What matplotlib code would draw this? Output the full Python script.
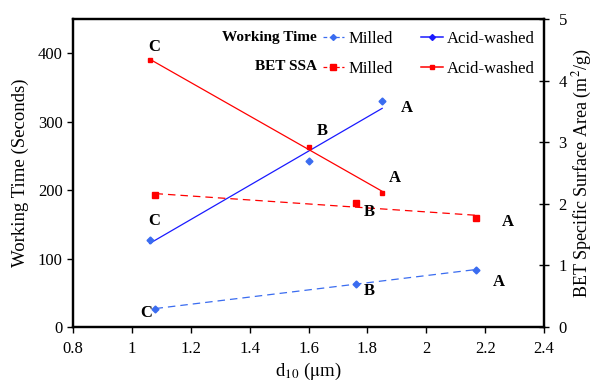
import numpy as np
import matplotlib
matplotlib.use("Agg")
import matplotlib.pyplot as plt
from matplotlib.lines import Line2D

plt.rcParams['font.family'] = ['Liberation Serif', 'DejaVu Serif']
plt.rcParams['mathtext.fontset'] = 'stix'

# Data (d10 in um)
d10_milled = [1.08, 1.76, 2.17]
d10_acid = [1.06, 1.60, 1.85]
wt_milled = [27, 63, 84]
wt_acid = [127, 242, 330]
bet_milled = [2.14, 2.02, 1.77]
bet_acid = [4.34, 2.92, 2.18]
labels = ['C', 'B', 'A']

blue = '#1a1aff'
blue_m = '#3a6cf0'
red = '#ff0000'

fig = plt.figure(figsize=(5.94, 3.83), dpi=100)
ax = fig.add_axes([0.123, 0.146, 0.793, 0.804])
ax2 = ax.twinx()


def trend(x, y):
    k, b = np.polyfit(x, y, 1)
    xs = np.array([min(x), max(x)])
    return xs, k * xs + b


# working time
xs, ys = trend(d10_milled, wt_milled)
ax.plot(xs, ys, '--', color=blue_m, lw=0.9, dashes=(6, 4))
ax.plot(d10_milled, wt_milled, 'D', color=blue_m, ms=3.5, ls='none')
xs, ys = trend(d10_acid, wt_acid)
ax.plot(xs, ys, '-', color=blue, lw=0.9)
ax.plot(d10_acid, wt_acid, 'D', color=blue_m, ms=3.5, ls='none')

# BET SSA
xs, ys = trend(d10_milled, bet_milled)
ax2.plot(xs, ys, '--', color=red, lw=0.9, dashes=(6, 4))
ax2.plot(d10_milled, bet_milled, 's', color=red, ms=4.5, ls='none')
xs, ys = trend(d10_acid, bet_acid)
ax2.plot(xs, ys, '-', color=red, lw=0.9)
ax2.plot(d10_acid, bet_acid, 's', color=red, ms=3.5, ls='none')

# point labels (offsets in points; None = no label)
lab_kw = dict(textcoords='offset points', fontsize=12, fontweight='bold',
              ha='center', va='center')


def label_points(a, x, y, offs):
    for xi, yi, t, off in zip(x, y, labels, offs):
        if off is not None:
            a.annotate(t, (xi, yi), xytext=off, **lab_kw)


label_points(ax, d10_milled, wt_milled, [(-7, -3), (10, -5), (16, -9)])
label_points(ax, d10_acid, wt_acid, [(3, 14), None, (18, -5)])
label_points(ax2, d10_milled, bet_milled, [None, (10, -6.5), (23, -3)])
label_points(ax2, d10_acid, bet_acid, [(3, 9.5), (10, 12), (9, 11)])

ax.set_xlim(0.8, 2.4)
ax.set_ylim(0, 450)
ax2.set_ylim(0, 5)
ax.set_xticks(np.arange(0.8, 2.41, 0.2))
ax.set_xticklabels(['0.8', '1', '1.2', '1.4', '1.6', '1.8', '2', '2.2', '2.4'])
ax.set_yticks([0, 100, 200, 300, 400])
ax2.set_yticks([0, 1, 2, 3, 4, 5])

ax.tick_params(axis='both', direction='out', labelsize=12, length=4, width=1)
ax.tick_params(axis='x', pad=6)
ax2.tick_params(axis='y', direction='inout', labelsize=12, length=7, width=1,
                pad=7)
for a in (ax, ax2):
    for s in a.spines.values():
        s.set_linewidth(1.6)

ax.set_xlabel(r'd$_{10}$ ($\mathrm{\mu}$m)', fontsize=13.5, labelpad=3)
ax.set_ylabel('Working Time (Seconds)', fontsize=13.5, labelpad=6)
ax2.set_ylabel(r'BET Specific Surface Area (m$^2$/g)', fontsize=13,
               labelpad=3)

# legend
handles = [
    Line2D([], [], color=blue_m, ls='--', lw=0.9, marker='D', ms=3,
           dashes=(3, 2)),
    Line2D([], [], color=red, ls='--', lw=0.9, marker='s', ms=4,
           dashes=(3, 2)),
    Line2D([], [], color=blue, ls='-', lw=1.1, marker='D', ms=3),
    Line2D([], [], color=red, ls='-', lw=1.1, marker='s', ms=3.5),
]
fig.legend(handles, ['Milled', 'Milled', 'Acid-washed', 'Acid-washed'],
           ncol=2, frameon=False, fontsize=12, handlelength=1.3,
           handletextpad=0.25, columnspacing=1.7, labelspacing=0.82,
           borderpad=0, borderaxespad=0,
           loc='upper left', bbox_to_anchor=(0.543, 0.919))
fig.text(0.533, 0.901, 'Working Time', fontsize=11, fontweight='bold',
         ha='right', va='center')
fig.text(0.533, 0.826, 'BET SSA', fontsize=11, fontweight='bold',
         ha='right', va='center')

fig.savefig('out.png', dpi=100)
